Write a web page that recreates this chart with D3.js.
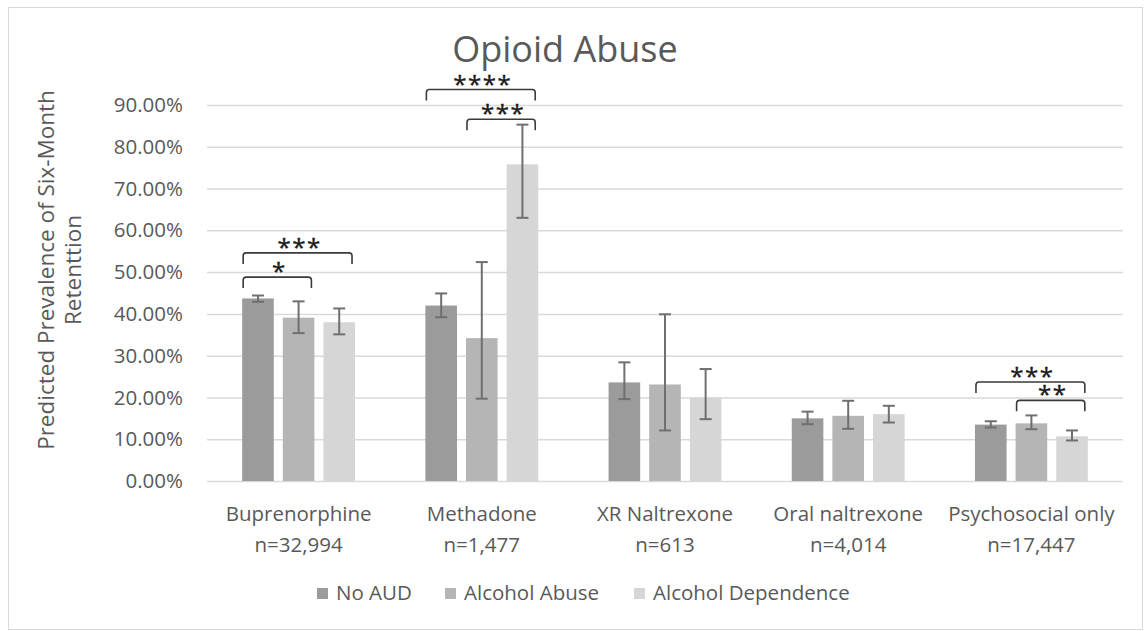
<!DOCTYPE html>
<html>
<head>
<meta charset="utf-8">
<script src="https://cdn.jsdelivr.net/npm/d3@7"></script>
<style>
  body { margin: 0; background: #fff; }
  svg { display: block; font-family: "Open Sans", sans-serif; }
</style>
</head>
<body>
<svg id="chart" width="1148" height="631"></svg>
<script>
const categories = ["Buprenorphine", "Methadone", "XR Naltrexone", "Oral naltrexone", "Psychosocial only"];
const sampleSizes = ["n=32,994", "n=1,477", "n=613", "n=4,014", "n=17,447"];
const seriesNames = ["No AUD", "Alcohol Abuse", "Alcohol Dependence"];

// predicted retention (%) and error bar ends
const noAud = [43.7, 42.0, 23.6, 15.0, 13.5];
const noAudLow = [42.9, 39.2, 19.6, 13.6, 12.8];
const noAudHigh = [44.4, 44.9, 28.4, 16.6, 14.3];
const alcAbuse = [39.1, 34.2, 23.1, 15.6, 13.8];
const alcAbuseLow = [35.4, 19.7, 12.1, 12.5, 12.4];
const alcAbuseHigh = [43.0, 52.4, 39.9, 19.2, 15.7];
const alcDep = [38.0, 75.8, 20.0, 16.0, 10.7];
const alcDepLow = [35.1, 63.0, 14.8, 14.0, 9.7];
const alcDepHigh = [41.3, 85.3, 26.8, 18.0, 12.1];

const yTicks = [0, 10, 20, 30, 40, 50, 60, 70, 80, 90];

// significance brackets: category, first bar, last bar, height (%), stars
const sigCategory = [0, 0, 1, 1, 4, 4];
const sigFrom = [0, 0, 0, 1, 0, 1];
const sigTo = [1, 2, 2, 2, 2, 2];
const sigLevel = [48.8, 54.6, 93.7, 86.6, 23.7, 19.3];
const sigLabel = ["*", "***", "****", "***", "***", "**"];

const colors = ["#9b9b9b", "#b5b5b5", "#d6d6d6"];

const svg = d3.select("#chart");

// chart area frame
svg.append("rect")
    .attr("x", 8.5).attr("y", 7.5)
    .attr("width", 1134).attr("height", 622)
    .attr("fill", "none")
    .attr("stroke", "#d9d9d9");

const x0 = d3.scaleBand().domain(categories).range([207, 1123]).padding(0);
const x1 = d3.scaleBand().domain(d3.range(seriesNames.length))
    .range([0, x0.bandwidth() * 0.616])
    .paddingInner(0.222).paddingOuter(0);
const groupOffset = x0.bandwidth() * 0.192;
const y = d3.scaleLinear().domain([0, 90]).range([481, 105]);

// gridlines + tick labels
const yAxis = d3.axisLeft(y)
    .tickValues(yTicks)
    .tickSize(-(1123 - 207))
    .tickFormat(d => d.toFixed(2) + "%");
const gy = svg.append("g").attr("transform", "translate(207,0)").call(yAxis);
gy.select(".domain").remove();
gy.selectAll(".tick line").attr("stroke", "#d9d9d9").attr("stroke-width", 1.5);
gy.selectAll(".tick text")
    .attr("x", -24)
    .attr("fill", "#595959")
    .attr("font-size", "20.5px")
    .attr("font-family", "Open Sans");

const rows = categories.map((c, i) => ({
    cat: c,
    vals: [
        {s: 0, v: noAud[i], lo: noAudLow[i], hi: noAudHigh[i]},
        {s: 1, v: alcAbuse[i], lo: alcAbuseLow[i], hi: alcAbuseHigh[i]},
        {s: 2, v: alcDep[i], lo: alcDepLow[i], hi: alcDepHigh[i]},
    ]
}));

const groups = svg.selectAll(".group")
    .data(rows)
    .enter()
    .append("g")
    .attr("class", "group")
    .attr("transform", d => `translate(${x0(d.cat) + groupOffset},0)`);

groups.selectAll("rect")
    .data(d => d.vals)
    .enter()
    .append("rect")
    .attr("x", d => x1(d.s))
    .attr("y", d => y(d.v))
    .attr("width", x1.bandwidth())
    .attr("height", d => y(0) - y(d.v))
    .attr("fill", d => colors[d.s]);

// error bars
const capW = 6;
const err = groups.selectAll(".err")
    .data(d => d.vals)
    .enter()
    .append("g")
    .attr("class", "err")
    .attr("stroke", "#6f6f6f")
    .attr("stroke-width", 2);
err.append("line")
    .attr("x1", d => x1(d.s) + x1.bandwidth() / 2)
    .attr("x2", d => x1(d.s) + x1.bandwidth() / 2)
    .attr("y1", d => y(d.lo))
    .attr("y2", d => y(d.hi));
err.append("line")
    .attr("x1", d => x1(d.s) + x1.bandwidth() / 2 - capW)
    .attr("x2", d => x1(d.s) + x1.bandwidth() / 2 + capW)
    .attr("y1", d => y(d.hi)).attr("y2", d => y(d.hi));
err.append("line")
    .attr("x1", d => x1(d.s) + x1.bandwidth() / 2 - capW)
    .attr("x2", d => x1(d.s) + x1.bandwidth() / 2 + capW)
    .attr("y1", d => y(d.lo)).attr("y2", d => y(d.lo));

// significance brackets
const sig = sigLabel.map((lab, i) => {
    const gx = x0(categories[sigCategory[i]]) + groupOffset;
    return {
        left: gx + x1(sigFrom[i]) + 1,
        right: gx + x1(sigTo[i]) + x1.bandwidth() - 3,
        top: y(sigLevel[i]),
        label: lab
    };
});
const leg = 11, r = 3;
svg.selectAll(".bracket")
    .data(sig)
    .enter()
    .append("path")
    .attr("class", "bracket")
    .attr("fill", "none")
    .attr("stroke", "#3a3a3a")
    .attr("stroke-width", 1.6)
    .attr("d", d => `M${d.left},${d.top + leg} L${d.left},${d.top + r} Q${d.left},${d.top} ${d.left + r},${d.top}` +
        ` L${d.right - r},${d.top} Q${d.right},${d.top} ${d.right},${d.top + r} L${d.right},${d.top + leg}`);
svg.selectAll(".stars")
    .data(sig)
    .enter()
    .append("text")
    .attr("class", "stars")
    .attr("x", d => (d.left + d.right) / 2 + 2)
    .attr("y", d => d.top + 3)
    .attr("text-anchor", "middle")
    .attr("font-size", "24px")
    .attr("letter-spacing", "1.5px")
    .attr("fill", "#1a1a1a")
    .attr("stroke", "#1a1a1a")
    .attr("stroke-width", 0.4)
    .text(d => d.label);

// category labels
const xl = svg.selectAll(".xlab")
    .data(categories)
    .enter()
    .append("text")
    .attr("class", "xlab")
    .attr("text-anchor", "middle")
    .attr("fill", "#595959")
    .attr("font-size", "20.5px");
xl.append("tspan")
    .attr("x", d => x0(d) + x0.bandwidth() / 2)
    .attr("y", 521)
    .text(d => d);
xl.append("tspan")
    .attr("x", d => x0(d) + x0.bandwidth() / 2)
    .attr("y", 552)
    .text((d, i) => sampleSizes[i]);

// title
svg.append("text")
    .attr("x", 565)
    .attr("y", 62)
    .attr("text-anchor", "middle")
    .attr("fill", "#595959")
    .attr("font-size", "36px")
    .text("Opioid Abuse");

// y axis title
const yt = svg.append("text")
    .attr("transform", "translate(60,270) rotate(-90)")
    .attr("text-anchor", "middle")
    .attr("fill", "#595959")
    .attr("font-size", "22.5px");
yt.append("tspan").attr("x", 0).attr("y", -6).text("Predicted Prevalence of Six-Month");
yt.append("tspan").attr("x", 0).attr("y", 21).text("Retenttion");

// legend
const legendX = [317, 445, 634];
const lg = svg.selectAll(".legend")
    .data(seriesNames)
    .enter()
    .append("g")
    .attr("class", "legend")
    .attr("transform", (d, i) => `translate(${legendX[i]},588)`);
lg.append("rect")
    .attr("width", 11).attr("height", 11)
    .attr("fill", (d, i) => colors[i]);
lg.append("text")
    .attr("x", 19)
    .attr("y", 12)
    .attr("fill", "#595959")
    .attr("font-size", "20.5px")
    .text(d => d);
</script>
</body>
</html>
